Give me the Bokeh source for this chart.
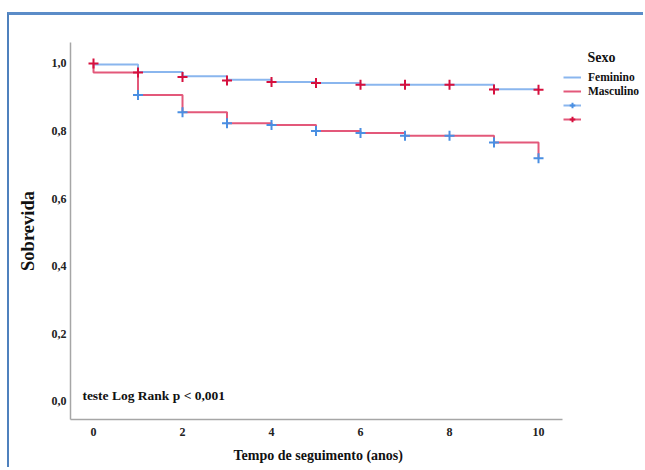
from bokeh.plotting import figure
from bokeh.models import Range1d, FixedTicker, Legend, LegendItem, Label, ColumnDataSource, Title
from bokeh.embed import file_html
from bokeh.resources import INLINE

# ---- data ----
fem_t = [0, 1, 2, 3, 4, 5, 6, 7, 8, 9, 10]
fem_s = [0.997, 0.975, 0.962, 0.952, 0.945, 0.942, 0.937, 0.937, 0.937, 0.924, 0.924]
fem_cens_t = [0, 1, 2, 3, 4, 5, 6, 7, 8, 9, 10]
fem_cens_s = [1.0, 0.973, 0.960, 0.950, 0.945, 0.942, 0.937, 0.937, 0.937, 0.923, 0.922]

masc_t = [0, 0, 1, 2, 3, 4, 5, 6, 7, 8, 9, 10, 10]
masc_s = [1.0, 0.973, 0.907, 0.856, 0.823, 0.818, 0.800, 0.794, 0.786, 0.786, 0.766, 0.766, 0.720]
masc_cens_t = [1, 2, 3, 4, 5, 6, 7, 8, 9, 10]
masc_cens_s = [0.907, 0.856, 0.823, 0.818, 0.800, 0.794, 0.786, 0.786, 0.766, 0.720]

x_ticks = [0, 2, 4, 6, 8, 10]
y_ticks = [0.0, 0.2, 0.4, 0.6, 0.8, 1.0]
y_tick_labels = ["0,0", "0,2", "0,4", "0,6", "0,8", "1,0"]

series_names = ["Feminino", "Masculino"]
legend_title = "Sexo"
note_text = "teste Log Rank p < 0,001"
x_title = "Tempo de seguimento (anos)"
y_title = "Sobrevida"

FONT = "Liberation Serif"
BLUE_LINE = "#8AB6EE"
RED_LINE = "#E3587A"
BLUE_MARK = "#4A8FE2"
RED_MARK = "#D6103E"

X0, X1_AXIS, X1_VIEW = -0.517, 10.539, 12.404

p = figure(width=636, height=455, output_backend="svg", toolbar_location=None,
           x_range=Range1d(X0, X1_VIEW), y_range=Range1d(-0.0533, 1.0621),
           min_border_left=61, min_border_right=0, min_border_top=27, min_border_bottom=51)
p.styles = {"border-left": "2px solid #4F81BD", "border-top": "3px solid #5B8CC8",
            "margin-left": "7px", "margin-top": "12px"}
p.outline_line_color = None
p.grid.visible = False
p.background_fill_color = "white"
p.border_fill_color = "white"

src_f = ColumnDataSource(dict(t=fem_t, s=fem_s))
src_m = ColumnDataSource(dict(t=masc_t, s=masc_s))
src_fc = ColumnDataSource(dict(t=fem_cens_t, s=fem_cens_s))
src_mc = ColumnDataSource(dict(t=masc_cens_t, s=masc_cens_s))

r_f = p.step("t", "s", source=src_f, mode="after", line_color=BLUE_LINE, line_width=2)
r_m = p.step("t", "s", source=src_m, mode="after", line_color=RED_LINE, line_width=2)
r_fc = p.scatter("t", "s", source=src_fc, marker="cross", size=10, line_width=2, line_color=RED_MARK)
r_mc = p.scatter("t", "s", source=src_mc, marker="cross", size=10, line_width=2, line_color=BLUE_MARK)

# axes
for ax in (p.xaxis[0], p.yaxis[0]):
    ax.axis_line_color = "#A6A6A6"
    ax.axis_line_width = 1.5
    ax.major_tick_line_color = None
    ax.minor_tick_line_color = None
    ax.major_tick_out = 0
    ax.major_tick_in = 0
    ax.major_label_text_font = FONT
    ax.major_label_text_font_style = "bold"
    ax.major_label_text_font_size = "12px"
    ax.major_label_text_color = "#222222"
    ax.axis_label_text_font = FONT
    ax.axis_label_text_font_style = "bold"
    ax.axis_label_text_color = "#111111"

p.xaxis.bounds = (X0, X1_AXIS)
p.xaxis.ticker = FixedTicker(ticks=x_ticks)
p.yaxis.ticker = FixedTicker(ticks=y_ticks)
p.yaxis.major_label_overrides = {t: l for t, l in zip(y_ticks, y_tick_labels)}
p.xaxis.major_label_standoff = 8
p.yaxis.major_label_standoff = 4
p.yaxis.axis_label = y_title
p.yaxis.axis_label_text_font_size = "18.5px"
p.yaxis.axis_label_standoff = 11

# x-axis title, centred under the axis (not the wider frame)
p.add_layout(Title(text=x_title, align="left", offset=163, standoff=15,
                   text_font=FONT, text_font_style="bold", text_font_size="14px",
                   text_color="#111111"), "below")

# note
p.add_layout(Label(x=-0.25, y=0.018, text=note_text, text_font=FONT, text_font_style="bold",
                   text_font_size="13.5px", text_baseline="middle", text_color="#111111"))

# legend
p.add_layout(Label(x=531, y=362, x_units="screen", y_units="screen", text=legend_title,
                   text_font=FONT, text_font_style="bold", text_font_size="14px",
                   text_align="center", text_baseline="middle", text_color="#111111"))
legend = Legend(items=[
    LegendItem(label=series_names[0], renderers=[r_f]),
    LegendItem(label=series_names[1], renderers=[r_m]),
    LegendItem(label=" ", renderers=[r_f, r_mc]),
    LegendItem(label=" ", renderers=[r_m, r_fc]),
], location=(493, 293))
legend.padding = 0
legend.margin = 0
legend.spacing = 0
legend.glyph_width = 18
legend.glyph_height = 14
legend.label_height = 14
legend.label_standoff = 7
legend.border_line_color = None
legend.background_fill_alpha = 0
legend.label_text_font = FONT
legend.label_text_font_style = "bold"
legend.label_text_font_size = "11.5px"
legend.label_text_color = "#111111"
p.add_layout(legend)

open("out.html", "w").write(file_html(p, INLINE))
